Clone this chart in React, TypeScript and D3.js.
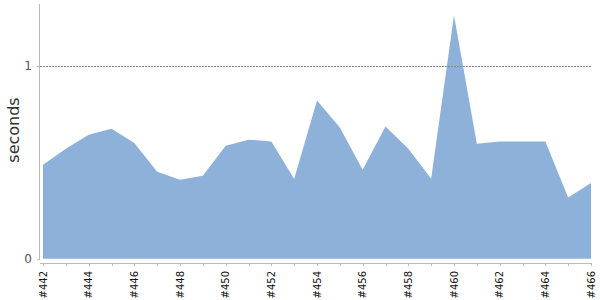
import React from "react";
import * as d3 from "d3";

const builds = [442,443,444,445,446,447,448,449,450,451,452,453,454,455,456,457,458,459,460,461,462,463,464,465,466];
const seconds = [0.487,0.57,0.643,0.674,0.60,0.45,0.409,0.43,0.586,0.617,0.607,0.413,0.82,0.68,0.461,0.685,0.57,0.414,1.262,0.596,0.607,0.607,0.607,0.317,0.392];
const yTicks = [0, 1];

export default function App() {
  const W = 600, H = 300;
  const x = d3.scaleLinear().domain([442, 466]).range([43, 591]);
  const y = d3.scaleLinear().domain([0, 1.32]).range([258.7, 4]);
  const data = builds.map((b, i) => ({ b, v: seconds[i] }));
  const area = d3.area<{ b: number; v: number }>()
    .x(d => x(d.b))
    .y0(y(0))
    .y1(d => y(d.v));
  const font = "DejaVu Sans, sans-serif";
  return (
    <svg width={W} height={H} style={{ position: "absolute", left: 0, top: 0 }}>
      <path d={area(data) || ""} fill="#8eb1d9" />
      {yTicks.filter(t => t > 0).map(t => (
        <line key={t} x1={40} x2={591} y1={Math.round(y(t)) + 0.5} y2={Math.round(y(t)) + 0.5} stroke="#888" strokeWidth={1} strokeDasharray="2,1" />
      ))}
      <line x1={39.5} x2={39.5} y1={4} y2={259} stroke="#bbb" />
      {yTicks.map(t => (
        <g key={t}>
          <line x1={37} x2={40} y1={Math.round(y(t)) + 0.5} y2={Math.round(y(t)) + 0.5} stroke="#bbb" />
          <text x={32} y={y(t)} dy="0.35em" textAnchor="end" fontFamily={font} fontSize={12} fill="#555">{t}</text>
        </g>
      ))}
      <line x1={40} x2={591} y1={263.5} y2={263.5} stroke="#bbb" />
      {builds.map(b => (
        <line key={b} x1={Math.round(x(b)) + 0.5} x2={Math.round(x(b)) + 0.5} y1={263} y2={266} stroke="#bbb" />
      ))}
      {builds.filter(b => b % 2 === 0).map(b => (
        <text key={b} transform={`translate(${x(b)},271) rotate(-90)`} dy="0.35em" textAnchor="end" fontFamily={font} fontSize={10} fill="#111">#{b}</text>
      ))}
      <text transform="translate(13,130) rotate(-90)" dy="0.35em" textAnchor="middle" fontFamily={font} fontSize={16} fill="#333">seconds</text>
    </svg>
  );
}
